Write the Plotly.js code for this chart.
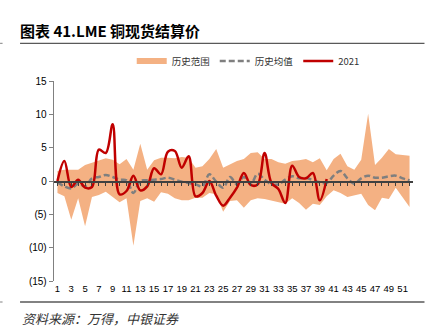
<!DOCTYPE html>
<html>
<head>
<meta charset="utf-8">
<script src="https://cdn.plot.ly/plotly-3.0.1.min.js"></script>
<style>html,body{margin:0;padding:0;background:#fff;}#chart{width:441px;height:329px;}</style>
</head>
<body>
<div id="chart"></div>
<script>
// Weeks 1..52
const weeks = Array.from({length: 52}, (_, i) => i + 1);
const tickWeeks = [1,3,5,7,9,11,13,15,17,19,21,23,25,27,29,31,33,35,37,39,41,43,45,47,49,51];
const tickLabels = tickWeeks.map(String);

// Historical range (upper / lower bounds)
const rangeUpper = [1.5,1.7,1.7,1.7,2.4,2.7,3.0,3.4,3.2,2.5,
                    3.3,1.7,5.6,1.7,3.1,3.5,3.5,3.4,3.6,3.5,
                    2.0,2.2,3.3,4.8,2.0,2.5,3.0,3.3,4.2,4.3,
                    3.3,3.3,2.8,2.6,3.0,3.1,3.3,2.8,3.4,1.6,
                    3.3,4.1,2.2,1.7,3.2,10.1,2.4,3.5,4.8,4.0,
                    3.9,3.8];
const rangeLower = [-1.8,-2.3,-5.8,-2.6,-6.8,-2.4,-2.1,-1.6,-2.4,-3.2,
                    -2.6,-9.7,-3.0,-2.6,-3.1,-1.7,-1.9,-2.6,-2.9,-2.9,
                    -2.5,-2.5,-1.8,-2.0,-4.6,-3.0,-2.9,-4.0,-2.9,-2.6,
                    -2.7,-2.9,-3.1,-3.4,-2.6,-3.3,-4.3,-3.4,-3.6,-2.3,
                    -1.4,-1.8,-2.4,-2.2,-1.9,-3.6,-4.4,-2.5,-2.7,-1.0,
                    -2.4,-3.9];
// Historical mean
const histMean = [-0.2,-0.8,-1.1,-0.4,-0.8,0.4,0.6,0.9,0.6,0.2,
                  0.1,-1.8,0.0,0.1,0.2,0.3,0.5,0.2,-0.1,-0.3,
                  -0.5,-0.8,1.0,-0.1,-1.0,0.6,-0.5,0.6,-0.5,1.1,
                  0.2,-0.5,-0.5,0.2,0.7,0.4,0.5,0.1,-0.2,-0.3,
                  0.8,1.5,0.4,-0.4,0.4,0.8,0.5,0.5,0.7,0.8,
                  0.4,0.1];
// 2021 (weeks 1..40)
const y2021 = [0.0,3.0,-0.9,0.2,-1.0,-0.9,4.7,4.2,8.5,-2.0,
               -1.5,0.8,-1.4,-0.8,1.9,1.0,4.4,4.5,2.0,3.7,
               -2.3,-1.8,0.0,-2.2,-3.7,-2.5,-1.0,1.2,-0.6,-0.5,
               4.2,-0.3,-1.2,-3.3,2.3,0.6,0.4,1.2,-2.9,0.3];
const weeks2021 = weeks.slice(0, y2021.length);

const ORANGE = '#F4B183';
const RED = '#C00000';
const GREY = '#7F7F7F';
const TXT = '#333333';

const traces = [
  {x: weeks, y: rangeLower, type: 'scatter', mode: 'lines', line: {width: 0, color: ORANGE},
   showlegend: false, hoverinfo: 'skip'},
  {x: weeks, y: rangeUpper, type: 'scatter', mode: 'lines', line: {width: 0, color: ORANGE},
   fill: 'tonexty', fillcolor: ORANGE, showlegend: false, hoverinfo: 'skip'},
  {x: [null], y: [null], type: 'scatter', mode: 'lines', name: '历史范围',
   line: {color: ORANGE, width: 6}},
  {x: weeks, y: histMean, type: 'scatter', mode: 'lines', name: '历史均值', xaxis: 'x2',
   line: {color: GREY, width: 2.5, dash: '6px,3px', shape: 'spline', smoothing: 1}},
  {x: weeks2021, y: y2021, type: 'scatter', mode: 'lines', name: '2021', xaxis: 'x2',
   line: {color: RED, width: 2.5, shape: 'spline', smoothing: 1}}
];

const fontFam = 'Liberation Sans, Arial, Noto Sans CJK SC, sans-serif';
const cjkFam = 'Noto Sans CJK SC, Liberation Sans, sans-serif';

const L = 54, R = 413.5, T = 81, B = 281;
const px2x = px => (px - L) / (R - L);
const py2y = py => (B - py) / (B - T);

const layout = {
  width: 441, height: 329,
  margin: {l: L, r: 441 - R, t: T, b: 329 - B, pad: 0},
  paper_bgcolor: '#ffffff', plot_bgcolor: '#ffffff',
  font: {family: fontFam, color: TXT, size: 10},
  title: {
    text: '<b>图表 41.LME 铜现货结算价</b>',
    font: {family: cjkFam, size: 15, color: '#000000'},
    xref: 'container', yref: 'container', x: 20 / 441, xanchor: 'left',
    y: 1 - 32 / 329, yanchor: 'middle'
  },
  showlegend: true,
  legend: {
    orientation: 'h', traceorder: 'normal',
    x: px2x(248.5), xanchor: 'center', y: py2y(61), yanchor: 'middle',
    font: {family: cjkFam, size: 9.5, color: TXT}, bgcolor: 'rgba(0,0,0,0)',
    itemwidth: 30, tracegroupgap: 0
  },
  xaxis: {
    range: [0.5, 52.5], showgrid: false, zeroline: false, showline: false,
    tickmode: 'array', tickvals: tickWeeks, ticktext: tickLabels, ticks: '',
    tickfont: {family: fontFam, size: 9.5, color: '#000000'}, fixedrange: true
  },
  xaxis2: {
    range: [0.5, 52.5], overlaying: 'x', anchor: 'free', position: 0.5, side: 'bottom',
    showgrid: false, zeroline: false, showline: true, linecolor: '#404040', linewidth: 1.5,
    ticks: 'outside', ticklen: 3, tickwidth: 1, tickcolor: '#404040',
    tickmode: 'array', tickvals: weeks, showticklabels: false, layer: 'above traces'
  },
  yaxis: {
    range: [-15, 15], showgrid: false, zeroline: false, showline: true,
    linecolor: '#808080', linewidth: 1.3,
    ticks: 'outside', ticklen: 4, tickcolor: '#808080',
    tickmode: 'array', tickvals: [15, 10, 5, 0, -5, -10, -15],
    ticktext: ['15', '10', '5', '0', '(5)', '(10)', '(15)'],
    tickfont: {family: fontFam, size: 10, color: '#000000'}
  },
  shapes: [
    {type: 'line', xref: 'paper', yref: 'paper', x0: px2x(20), x1: px2x(425), y0: py2y(43.3), y1: py2y(43.3),
     line: {color: '#595959', width: 1.3}},
    {type: 'line', xref: 'paper', yref: 'paper', x0: px2x(20), x1: px2x(425), y0: py2y(302), y1: py2y(302),
     line: {color: '#595959', width: 1.3}},
    {type: 'line', xref: 'paper', yref: 'paper', x0: px2x(0), x1: px2x(2.5), y0: py2y(43.3), y1: py2y(43.3),
     line: {color: '#808080', width: 1}},
    {type: 'line', xref: 'paper', yref: 'paper', x0: px2x(0), x1: px2x(2.5), y0: py2y(302), y1: py2y(302),
     line: {color: '#808080', width: 1}}
  ],
  annotations: [
    {text: '资料来源：万得，中银证券', xref: 'paper', yref: 'paper', x: px2x(20), y: py2y(318),
     xanchor: 'left', yanchor: 'middle', showarrow: false,
     font: {family: cjkFam, size: 13, color: '#333333', style: 'italic'}}
  ]
};

Plotly.newPlot('chart', traces, layout, {displayModeBar: false, staticPlot: true});
</script>
</body>
</html>
